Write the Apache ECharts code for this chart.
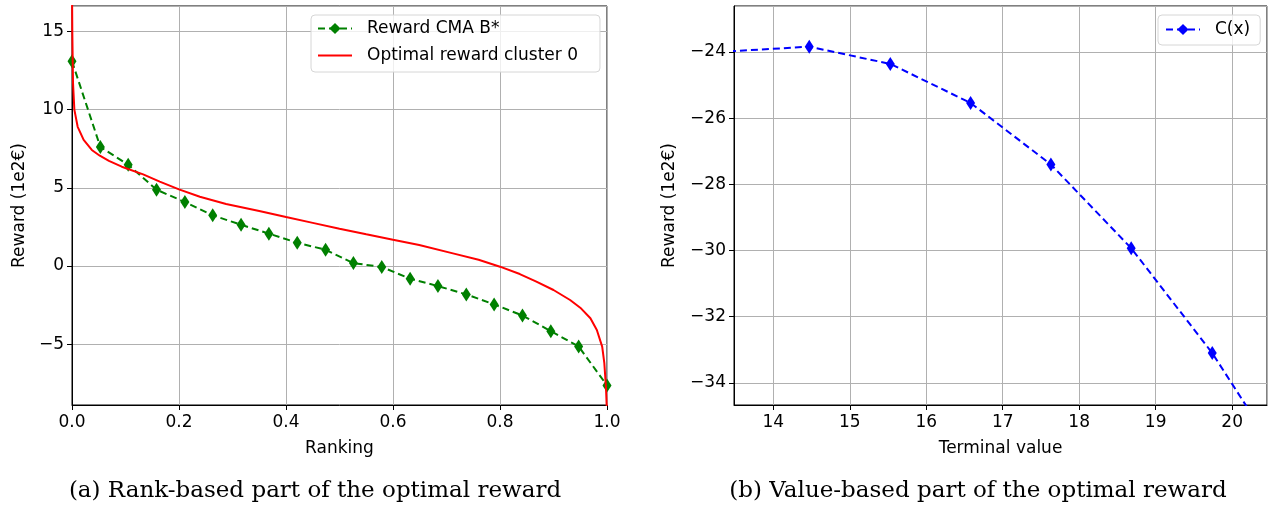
<!DOCTYPE html>
<html>
<head>
<meta charset="utf-8">
<title>Optimal reward</title>
<script src="https://cdn.jsdelivr.net/npm/echarts@6/dist/echarts.min.js"></script>
<style>
  html, body { margin: 0; padding: 0; background: #fff; }
  #main { width: 1278px; height: 510px; }
</style>
</head>
<body>
<div id="main"></div>
<script>
// (a) reward CMA B* (green markers)
var rankX = [0.000, 0.053, 0.105, 0.158, 0.211, 0.263, 0.316, 0.368, 0.421, 0.474,
             0.526, 0.579, 0.632, 0.684, 0.737, 0.789, 0.842, 0.895, 0.947, 1.000];
var rewardCMA = [13.09, 7.61, 6.48, 4.88, 4.09, 3.24, 2.64, 2.07, 1.49, 1.04,
                 0.19, -0.06, -0.81, -1.28, -1.81, -2.45, -3.16, -4.16, -5.14, -7.63];

// (a) optimal reward cluster 0 (red curve)
var optX = [0.0001, 0.0006, 0.0019, 0.0044, 0.0106, 0.0218, 0.037, 0.052, 0.069, 0.093,
            0.133, 0.164, 0.2, 0.239, 0.288, 0.35, 0.4, 0.45, 0.5, 0.55, 0.6, 0.649,
            0.712, 0.76, 0.8, 0.837, 0.868, 0.9, 0.931, 0.95, 0.969, 0.981, 0.991,
            0.995, 0.998, 0.9995];
var optY = [17.2, 14.9, 11.7, 10.0, 8.9, 8.06, 7.42, 7.05, 6.72, 6.35,
            5.86, 5.4, 4.9, 4.43, 3.97, 3.52, 3.13, 2.76, 2.39, 2.03, 1.68, 1.34,
            0.81, 0.4, -0.04, -0.51, -1.0, -1.53, -2.17, -2.66, -3.34, -4.09, -5.15,
            -6.2, -7.7, -9.0];

// (b) C(x)
var termX = [13.42, 14.47, 15.53, 16.58, 17.63, 18.68, 19.74, 20.79];
var termY = [-23.98, -23.84, -24.36, -25.54, -27.40, -29.93, -33.10, -36.87];

var pairs = function(xs, ys){
  var out = [];
  for (var i = 0; i < xs.length; i++) out.push([xs[i], ys[i]]);
  return out;
};
var minus = function(v){ return v < 0 ? '\u2212' + Math.abs(v) : String(v); };

var FONT = 'DejaVu Sans';
var SERIF = 'DejaVu Serif';
var gridLine = { show: true, lineStyle: { color: '#b0b0b0', width: 1 } };
var tickStyle = { show: true, inside: false, length: 5, lineStyle: { color: '#000' } };
var lineAxis = { show: true, onZero: false, lineStyle: { color: '#000', width: 1 } };
var lbl = { color: '#000', fontFamily: FONT, fontSize: 17 };
var nameStyle = { color: '#000', fontFamily: FONT, fontSize: 17 };
var legendText = { color: '#000', fontFamily: FONT, fontSize: 17, padding: [0, 0, 0, 10] };
// 红线图例只要线段，不要圆点
var noSymbol = { color: 'rgba(0,0,0,0)', opacity: 0, borderWidth: 0 };

var chart = echarts.init(document.getElementById('main'), null, { renderer: 'canvas' });

var option = {
  animation: false,
  backgroundColor: '#fff',
  textStyle: { fontFamily: FONT },
  grid: [
    { left: 72, top: 6, width: 535, height: 399, show: true, borderColor: '#000', borderWidth: 1, containLabel: false },
    { left: 734, top: 6, width: 533, height: 399, show: true, borderColor: '#000', borderWidth: 1, containLabel: false }
  ],
  xAxis: [
    {
      type: 'value', gridIndex: 0, min: 0, max: 1, interval: 0.2,
      name: 'Ranking', nameLocation: 'middle', nameGap: 35, nameTextStyle: nameStyle,
      axisLine: lineAxis, axisTick: tickStyle, splitLine: gridLine,
      axisLabel: Object.assign({ margin: 9, formatter: function(v){ return v.toFixed(1); } }, lbl)
    },
    {
      type: 'value', gridIndex: 1, min: 13.486, max: 20.456, splitNumber: 7,
      name: 'Terminal value', nameLocation: 'middle', nameGap: 35, nameTextStyle: nameStyle,
      axisLine: lineAxis, axisTick: tickStyle, splitLine: gridLine,
      axisLabel: Object.assign({ margin: 9, showMinLabel: false, showMaxLabel: false }, lbl)
    }
  ],
  yAxis: [
    {
      type: 'value', gridIndex: 0, min: -8.88, max: 16.62, splitNumber: 5,
      name: 'Reward (1e2\u20ac)', nameLocation: 'middle', nameGap: 44, nameTextStyle: nameStyle,
      axisLine: lineAxis, axisTick: tickStyle, splitLine: gridLine,
      axisLabel: Object.assign({ margin: 8, showMinLabel: false, showMaxLabel: false, formatter: minus }, lbl)
    },
    {
      type: 'value', gridIndex: 1, min: -34.67, max: -22.61, splitNumber: 6,
      name: 'Reward (1e2\u20ac)', nameLocation: 'middle', nameGap: 56, nameTextStyle: nameStyle,
      axisLine: lineAxis, axisTick: tickStyle, splitLine: gridLine,
      axisLabel: Object.assign({ margin: 8, showMinLabel: false, showMaxLabel: false, formatter: minus }, lbl)
    }
  ],
  legend: [
    {
      left: 311, top: 15, orient: 'vertical',
      data: ['Reward CMA B*', { name: 'Optimal reward cluster 0', itemStyle: noSymbol }],
      itemWidth: 34, itemHeight: 14, itemGap: 10,
      padding: [5, 22, 8, 6],
      backgroundColor: 'rgba(255,255,255,0.8)', borderColor: '#d6d6d6', borderWidth: 1, borderRadius: 4,
      textStyle: legendText
    },
    {
      left: 1158, top: 15, orient: 'vertical',
      data: ['C(x)'],
      itemWidth: 34, itemHeight: 14,
      padding: [6, 10, 7, 7],
      backgroundColor: 'rgba(255,255,255,0.8)', borderColor: '#d6d6d6', borderWidth: 1, borderRadius: 4,
      textStyle: legendText
    }
  ],
  title: [
    {
      text: '(a) Rank-based part of the optimal reward', left: 310, top: 475, textAlign: 'center',
      textStyle: { fontFamily: SERIF, fontSize: 23, fontWeight: 'normal', color: '#000' }
    },
    {
      text: '(b) Value-based part of the optimal reward', left: 973, top: 475, textAlign: 'center',
      textStyle: { fontFamily: SERIF, fontSize: 23, fontWeight: 'normal', color: '#000' }
    }
  ],
  series: [
    {
      name: 'Reward CMA B*', type: 'line', xAxisIndex: 0, yAxisIndex: 0,
      data: pairs(rankX, rewardCMA),
      symbol: 'diamond', symbolSize: [9, 14], showAllSymbol: true,
      lineStyle: { color: '#008000', width: 2, type: [7, 4] },
      itemStyle: { color: '#008000', borderWidth: 0 },
      z: 3
    },
    {
      name: 'Optimal reward cluster 0', type: 'line', xAxisIndex: 0, yAxisIndex: 0,
      data: pairs(optX, optY),
      showSymbol: false, symbol: 'none', smooth: false,
      lineStyle: { color: '#ff0000', width: 2 },
      itemStyle: { color: '#ff0000' },
      z: 4
    },
    {
      name: 'C(x)', type: 'line', xAxisIndex: 1, yAxisIndex: 1,
      data: pairs(termX, termY),
      symbol: 'diamond', symbolSize: [9, 14], showAllSymbol: true,
      lineStyle: { color: '#0000ff', width: 2, type: [7, 4] },
      itemStyle: { color: '#0000ff', borderWidth: 0 },
      z: 3
    }
  ]
};

chart.setOption(option);
</script>
</body>
</html>
